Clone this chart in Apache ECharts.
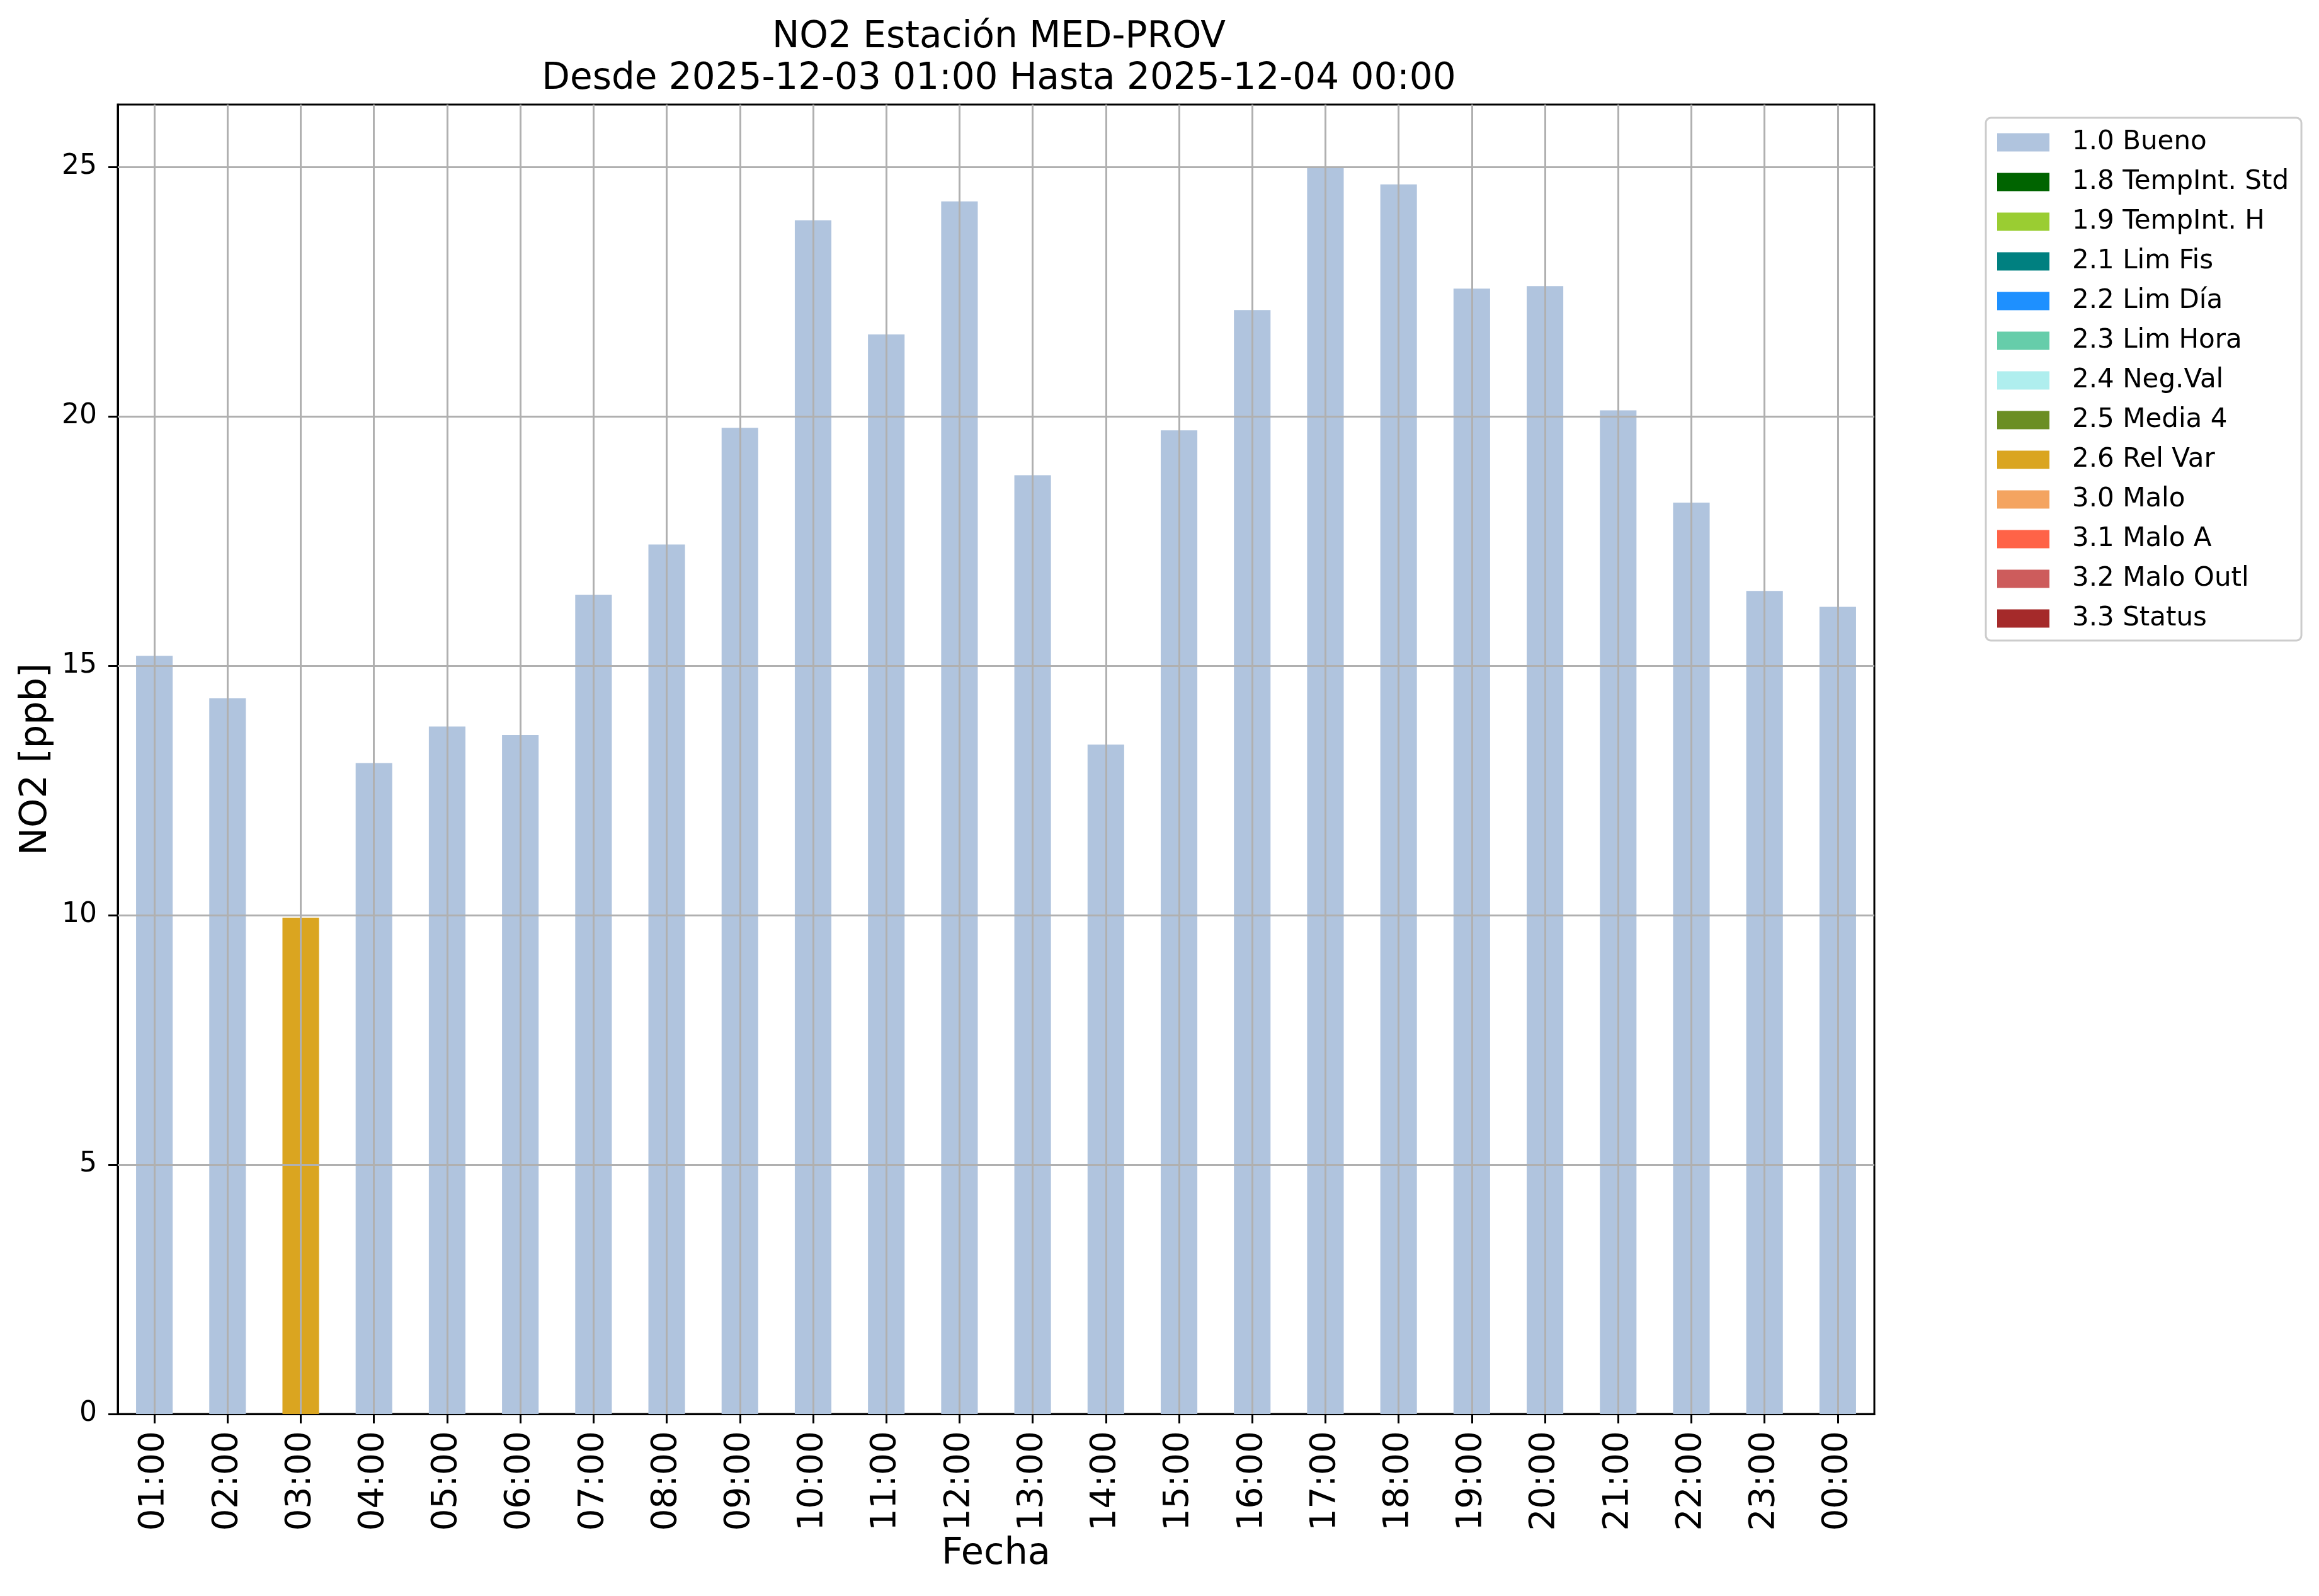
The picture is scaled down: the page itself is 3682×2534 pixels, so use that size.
<!DOCTYPE html>
<html>
<head>
<meta charset="utf-8">
<script src="https://cdn.jsdelivr.net/npm/echarts@6/dist/echarts.min.js"></script>
<style>
html,body{margin:0;padding:0;background:#fff;}
#chart{width:3682px;height:2534px;}
</style>
</head>
<body>
<div id="chart"></div>
<script>
const hours = ['01:00','02:00','03:00','04:00','05:00','06:00','07:00','08:00','09:00','10:00','11:00','12:00',
               '13:00','14:00','15:00','16:00','17:00','18:00','19:00','20:00','21:00','22:00','23:00','00:00'];
const no2 = [15.20,14.35,9.95,13.05,13.78,13.61,16.42,17.43,19.77,23.93,21.64,24.31,
             18.82,13.42,19.72,22.13,24.98,24.65,22.56,22.61,20.12,18.27,16.50,16.18];
const flagOf = ['1.0 Bueno','1.0 Bueno','2.6 Rel Var','1.0 Bueno','1.0 Bueno','1.0 Bueno','1.0 Bueno','1.0 Bueno',
                '1.0 Bueno','1.0 Bueno','1.0 Bueno','1.0 Bueno','1.0 Bueno','1.0 Bueno','1.0 Bueno','1.0 Bueno',
                '1.0 Bueno','1.0 Bueno','1.0 Bueno','1.0 Bueno','1.0 Bueno','1.0 Bueno','1.0 Bueno','1.0 Bueno'];
const flagNames = ['1.0 Bueno','1.8 TempInt. Std','1.9 TempInt. H','2.1 Lim Fis','2.2 Lim Día','2.3 Lim Hora',
                   '2.4 Neg.Val','2.5 Media 4','2.6 Rel Var','3.0 Malo','3.1 Malo A','3.2 Malo Outl','3.3 Status'];
const flagColors = ['#B0C4DE','#006400','#9ACD32','#008080','#1E90FF','#66CDAA',
                    '#AFEEEE','#6B8E23','#DAA520','#F4A460','#FF6347','#CD5C5C','#A52A2A'];
const yTicks = [0,5,10,15,20,25];
const yMax = 26.25;
const titleText = 'NO2 Estación MED-PROV\nDesde 2025-12-03 01:00 Hasta 2025-12-04 00:00';
const xName = 'Fecha';
const yName = 'NO2 [ppb]';

const FONT = 'DejaVu Sans';
const chart = echarts.init(document.getElementById('chart'), null, {renderer:'canvas'});

const barSeries = flagNames.map((name, k) => ({
  type: 'bar',
  name: name,
  barWidth: '50%',
  barGap: '-100%',
  itemStyle: {color: flagColors[k]},
  data: no2.map((v, i) => flagOf[i] === name ? v : '-')
}));

const gridSeries = {
  type: 'line',
  name: '__grid',
  data: [],
  silent: true,
  z: 5,
  markLine: {
    symbol: ['none','none'],
    silent: true,
    animation: false,
    label: {show: false},
    lineStyle: {color: '#b0b0b0', width: 3, type: 'solid'},
    data: [
      ...hours.map(h => ({xAxis: h})),
      ...yTicks.filter(t => t > 0).map(t => ({yAxis: t}))
    ]
  }
};

chart.setOption({
  animation: false,
  backgroundColor: '#ffffff',
  title: {
    text: titleText,
    left: 1581,
    top: 22,
    textAlign: 'center',
    textStyle: {fontFamily: FONT, fontSize: 58, fontWeight: 'normal', color: '#000', lineHeight: 66}
  },
  legend: {
    data: flagNames,
    orient: 'vertical',
    left: 3153,
    top: 187,
    icon: 'rect',
    itemWidth: 83,
    itemHeight: 29,
    itemGap: 19,
    padding: [17, 20, 13, 18],
    borderColor: '#cccccc',
    borderWidth: 3,
    borderRadius: 8,
    backgroundColor: '#ffffff',
    selectedMode: false,
    formatter: name => '{t|' + name + '}',
    textStyle: {
      fontFamily: FONT, fontSize: 42, color: '#000', lineHeight: 44,
      rich: {t: {fontFamily: FONT, fontSize: 42, color: '#000', lineHeight: 44, padding: [0, 0, 0, 31]}}
    }
  },
  grid: {
    left: 187, top: 166, right: 706, bottom: 289,
    show: true, borderColor: '#000', borderWidth: 3, backgroundColor: '#fff'
  },
  xAxis: {
    type: 'category',
    data: hours,
    name: xName,
    nameLocation: 'middle',
    nameGap: 190,
    nameTextStyle: {fontFamily: FONT, fontSize: 59, color: '#000'},
    axisLine: {show: true, lineStyle: {color: '#000', width: 3}},
    axisTick: {show: true, alignWithLabel: true, length: 15, lineStyle: {color: '#000', width: 3}},
    axisLabel: {rotate: 90, fontFamily: FONT, fontSize: 55, color: '#000', margin: 27, interval: 0},
    splitLine: {show: false}
  },
  yAxis: {
    type: 'value',
    min: 0,
    max: yMax,
    interval: 5,
    name: yName,
    nameLocation: 'middle',
    nameRotate: 90,
    nameGap: 100,
    nameTextStyle: {fontFamily: FONT, fontSize: 59, color: '#000'},
    axisLine: {show: true, lineStyle: {color: '#000', width: 3}},
    axisTick: {show: true, length: 15, lineStyle: {color: '#000', width: 3}, customValues: yTicks},
    axisLabel: {fontFamily: FONT, fontSize: 44, color: '#000', margin: 33, customValues: yTicks},
    splitLine: {show: false}
  },
  series: [...barSeries, gridSeries]
});
</script>
</body>
</html>
